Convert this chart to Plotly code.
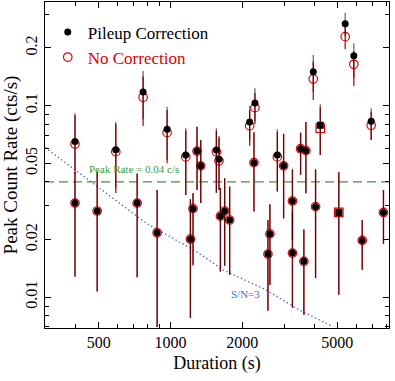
import numpy as np
import plotly.graph_objects as go

# ---------------- data ----------------
duration = [398, 590, 768, 968, 1159, 1292, 1339, 1557, 1597, 2147, 2259, 2238,
            2804, 2979, 3509, 3693, 3966, 4243, 5397, 5865, 6934,
            398, 493, 725, 879, 1212, 1243, 1619, 1687, 1770, 2561, 2610,
            3244, 3244, 3622, 4055, 5074, 6360, 7807]

rate_pileup = [0.0649, 0.0589, 0.1179, 0.0753, 0.0553, 0.0579, 0.0485, 0.0587, 0.0525,
               0.0822, 0.1033, 0.0504, 0.0553, 0.0485, 0.0596, 0.0582, 0.1505, 0.0790,
               0.2679, 0.1824, 0.0829,
               0.0310, 0.0282, 0.0310, 0.0217, 0.0201, 0.0290, 0.0265, 0.0282, 0.0253,
               0.0168, 0.0214, 0.0318, 0.0170, 0.0154, 0.0297, 0.0277, 0.0198, 0.0277]
upper_pileup = [0.0913, 0.0825, 0.1518, 0.0988, 0.0765, 0.0777, 0.0662, 0.0762, 0.0695,
                0.0996, 0.1233, 0.0726, 0.0753, 0.0712, 0.0723, 0.0822, 0.1839, 0.1017,
                0.3057, 0.2117, 0.0969,
                0.0450, 0.0453, 0.0443, 0.0363, 0.0325, 0.0349, 0.0371, 0.0418, 0.0378,
                0.0253, 0.0306, 0.0465, 0.0280, 0.0226, 0.0465, 0.0449, 0.0253, 0.0363]
lower_pileup = [0.0460, 0.0370, 0.0850, 0.0520, 0.0342, 0.0363, 0.0310, 0.0351, 0.0363,
                0.0660, 0.0830, 0.0280, 0.0356, 0.0258, 0.0435, 0.0349, 0.1180, 0.0553,
                0.2300, 0.1400, 0.0662,
                0.0128, 0.0107, 0.0127, 0.0070, 0.0078, 0.0147, 0.0136, 0.0146, 0.0131,
                0.0085, 0.0116, 0.0200, 0.0088, 0.0081, 0.0126, 0.0103, 0.0139, 0.0190]

rate_nocorr = [0.0631, 0.0575, 0.1106, 0.0723, 0.0540, 0.0579, 0.0485, 0.0574, 0.0515,
               0.0786, 0.0976, 0.0504, 0.0540, 0.0485, 0.0596, 0.0582, 0.1378, 0.0762,
               0.2292, 0.1644, 0.0790,
               0.0310, 0.0282, 0.0310, 0.0217, 0.0201, 0.0290, 0.0265, 0.0282, 0.0253,
               0.0168, 0.0214, 0.0318, 0.0170, 0.0154, 0.0297, 0.0277, 0.0198, 0.0277]
upper_nocorr = [0.0890, 0.0800, 0.1420, 0.0950, 0.0740, 0.0777, 0.0662, 0.0740, 0.0680,
                0.0950, 0.1160, 0.0726, 0.0730, 0.0712, 0.0723, 0.0822, 0.1700, 0.0980,
                0.2700, 0.1920, 0.0930,
                0.0450, 0.0453, 0.0443, 0.0363, 0.0325, 0.0349, 0.0371, 0.0418, 0.0378,
                0.0253, 0.0306, 0.0465, 0.0280, 0.0226, 0.0465, 0.0449, 0.0253, 0.0363]
lower_nocorr = [0.0440, 0.0350, 0.0783, 0.0500, 0.0342, 0.0363, 0.0310, 0.0351, 0.0363,
                0.0618, 0.0802, 0.0280, 0.0356, 0.0258, 0.0435, 0.0349, 0.1071, 0.0553,
                0.1970, 0.1267, 0.0662,
                0.0128, 0.0107, 0.0127, 0.0070, 0.0078, 0.0147, 0.0136, 0.0146, 0.0131,
                0.0085, 0.0116, 0.0200, 0.0088, 0.0081, 0.0126, 0.0103, 0.0139, 0.0190]

square_points = [17, 36]   # indices drawn with square markers

# S/N = 3 curve
sn_duration = [298, 473, 794, 1285, 1660, 2523, 3475, 4786]
sn_rate = [0.0605, 0.0395, 0.0243, 0.0173, 0.0139, 0.0109, 0.00857, 0.00702]

peak_rate_limit = 0.04

x_ticks = [500, 1000, 2000, 5000]
x_minor = [300, 400, 600, 700, 800, 900, 3000, 4000, 6000, 7000, 8000]
y_ticks = [0.01, 0.02, 0.05, 0.1, 0.2]
y_minor = [0.007, 0.008, 0.009, 0.03, 0.04, 0.06, 0.07, 0.08, 0.09, 0.3]

x_range = [298, 8235]
y_range = [0.00691, 0.3475]

# ---------------- figure ----------------
FONT = "Liberation Serif, Times New Roman, serif"

rp = np.array(rate_pileup); rn = np.array(rate_nocorr)
sym_black = ["square" if i in square_points else "circle" for i in range(len(duration))]
sym_red = ["square-open" if i in square_points else "circle-open" for i in range(len(duration))]

fig = go.Figure()

fig.add_trace(go.Scatter(x=sn_duration, y=sn_rate, mode="lines",
                         line=dict(color="#4a6cc8", width=1.3, dash="1.5px,2.5px"),
                         showlegend=False, hoverinfo="skip"))
fig.add_trace(go.Scatter(x=x_range, y=[peak_rate_limit, peak_rate_limit], mode="lines",
                         line=dict(color="#3a9d3a", width=1.4, dash="9px,5px"),
                         showlegend=False, hoverinfo="skip"))

fig.add_trace(go.Scatter(
    x=duration, y=rate_nocorr, mode="markers",
    name='<span style="color:#e00000">No Correction</span>', legendrank=2,
    marker=dict(symbol=sym_red, size=8.5, color="#e00000", line=dict(width=1.2, color="#e00000")),
    error_y=dict(type="data", symmetric=False,
                 array=list(np.array(upper_nocorr) - rn),
                 arrayminus=list(rn - np.array(lower_nocorr)),
                 color="rgb(200,10,10)", thickness=1.3, width=0),
))
fig.add_trace(go.Scatter(
    x=duration, y=rate_pileup, mode="markers",
    name="Pileup Correction", legendrank=1,
    marker=dict(symbol=sym_black, size=7, color="black"),
    error_y=dict(type="data", symmetric=False,
                 array=list(np.array(upper_pileup) - rp),
                 arrayminus=list(rp - np.array(lower_pileup)),
                 color="rgba(40,0,0,0.6)", thickness=1.3, width=0),
))

axis_common = dict(type="log", showline=True, linecolor="black", linewidth=1.3,
                   mirror="ticks", ticks="inside", ticklen=6, tickwidth=1.2,
                   tickcolor="black", showgrid=False, zeroline=False, automargin=False,
                   tickfont=dict(family=FONT, size=16, color="black"))

fig.update_xaxes(**axis_common, range=[np.log10(x_range[0]), np.log10(x_range[1])],
                 tickmode="array", tickvals=x_ticks, ticktext=[str(v) for v in x_ticks],
                 minor=dict(tickmode="array", tickvals=x_minor, ticks="inside",
                            ticklen=3.5, tickwidth=1, tickcolor="black"),
                 title=dict(text="Duration (s)", font=dict(family=FONT, size=18, color="black"),
                            standoff=6))
fig.update_yaxes(**axis_common, range=[np.log10(y_range[0]), np.log10(y_range[1])],
                 tickmode="array", tickvals=y_ticks, ticktext=[str(v) for v in y_ticks],
                 tickangle=-90,
                 minor=dict(tickmode="array", tickvals=y_minor, ticks="inside",
                            ticklen=3.5, tickwidth=1, tickcolor="black"),
                 title=dict(text="Peak Count Rate (cts/s)",
                            font=dict(family=FONT, size=19, color="black"), standoff=4))

fig.add_annotation(text="Peak Rate = 0.04 c/s", xref="paper", yref="paper",
                   x=0.2596, y=0.4868, xanchor="center", yanchor="middle", showarrow=False,
                   font=dict(family=FONT, size=11, color="#3a9d3a"))
fig.add_annotation(text="S/N=3", xref="paper", yref="paper",
                   x=0.5843, y=0.1043, xanchor="center", yanchor="middle", showarrow=False,
                   font=dict(family=FONT, size=11, color="#4a6cc8"))

fig.update_layout(
    width=395, height=381,
    margin=dict(l=45, r=6, t=2, b=53),
    paper_bgcolor="white", plot_bgcolor="white",
    font=dict(family=FONT, size=15, color="black"),
    legend=dict(x=0.008, y=0.962, xanchor="left", yanchor="top",
                bgcolor="rgba(0,0,0,0)", font=dict(family=FONT, size=17, color="black"),
                itemwidth=30, tracegroupgap=0),
    showlegend=True,
)

fig.write_html("out.html", config={"displayModeBar": False},
               post_script="document.body.style.margin='0';document.body.style.padding='0';")
